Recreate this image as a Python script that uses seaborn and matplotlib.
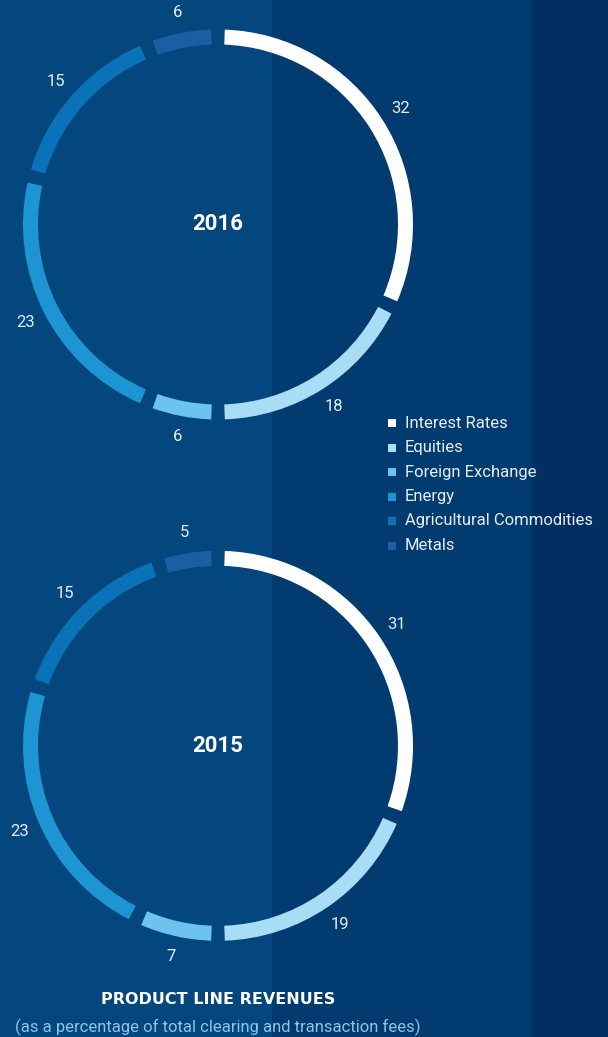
import matplotlib
matplotlib.use("Agg")
import matplotlib.pyplot as plt
import seaborn as sns

# ---- data ----
categories = ["Interest Rates", "Equities", "Foreign Exchange", "Energy",
              "Agricultural Commodities", "Metals"]
values_2016 = [32, 18, 6, 23, 15, 6]
values_2015 = [31, 19, 7, 23, 15, 5]
years = ["2016", "2015"]
title = "PRODUCT LINE REVENUES"
subtitle = "(as a percentage of total clearing and transaction fees)"

# ---- style ----
sns.set_style("white")
plt.rcParams["font.family"] = ["Roboto", "DejaVu Sans"]
palette = sns.color_palette(["#FFFFFF", "#A8DDF5", "#6CC4EE", "#1E95D3",
                             "#0A72B8", "#1A5FA3"])
band_colors = ["#04467E", "#013B6F", "#012F61"]
label_color = "#E6EEF6"

W, H = 608, 1037
fig = plt.figure(figsize=(W / 100, H / 100), dpi=100)

bg = fig.add_axes([0, 0, 1, 1], zorder=0)
bg.set_xlim(0, W)
bg.set_ylim(H, 0)
bg.axis("off")
bg.axvspan(0, 272, color=band_colors[0], lw=0)
bg.axvspan(272, 532, color=band_colors[1], lw=0)
bg.axvspan(532, W, color=band_colors[2], lw=0)

R = 195.0
LIM = 1.2
GAP_DEG = 4.0
g = GAP_DEG / 3.6  # gap in percentage units


def donut(values, year, cx, cy):
    size = 2 * LIM * R
    ax = fig.add_axes([(cx - size / 2) / W, (H - cy - size / 2) / H,
                       size / W, size / H], zorder=1)
    ax.patch.set_alpha(0)
    seq, cols, labs = [g / 2], ["none"], [""]
    for i, v in enumerate(values):
        seq += [v - g, g]
        cols += [palette[i], "none"]
        labs += [str(v), ""]
    seq[-1] = g / 2
    wedges, texts = ax.pie(seq, colors=cols, labels=labs, startangle=90,
                           counterclock=False, labeldistance=1.108,
                           normalize=True,
                           wedgeprops=dict(width=0.077, linewidth=0),
                           textprops=dict(color=label_color, fontsize=12))
    for t in texts:
        t.set_ha("center")
        t.set_va("center")
    ax.text(0, 0, year, ha="center", va="center", color="white",
            fontsize=16, fontweight="bold")
    ax.set_xlim(-LIM, LIM)
    ax.set_ylim(-LIM, LIM)
    ax.set_aspect("equal")
    ax.axis("off")


donut(values_2016, years[0], 218, 224.5)
donut(values_2015, years[1], 218, 745.8)

# legend
for i, c in enumerate(categories):
    y = 423 + 24.5 * i
    bg.scatter([392], [y], marker="s", s=40, color=palette[i], lw=0, zorder=3)
    bg.text(405, y, c, color=label_color, fontsize=12, ha="left",
            va="center", zorder=3)

bg.text(218, 1000, title, color="white", fontsize=11.5, fontweight="bold",
        ha="center", va="center", family="DejaVu Sans")
bg.text(218, 1027, subtitle, color="#8FC3E8", fontsize=12, ha="center",
        va="center")

fig.savefig("out.png", dpi=100)
